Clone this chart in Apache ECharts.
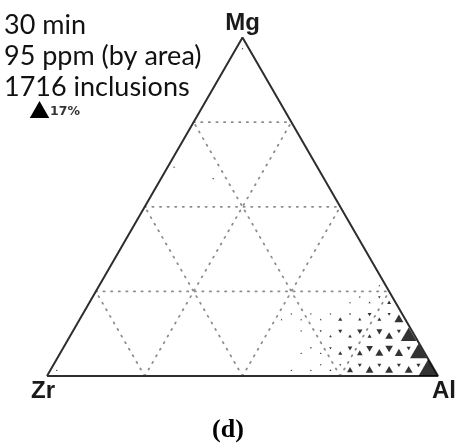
<!DOCTYPE html>
<html>
<head>
<meta charset="utf-8">
<script src="https://cdn.jsdelivr.net/npm/echarts@6/dist/echarts.min.js"></script>
<style>
  html, body { margin: 0; padding: 0; background: #ffffff; }
  #chart { width: 456px; height: 446px; }
</style>
</head>
<body>
<div id="chart"></div>
<script>
// Ternary frequency map of inclusion compositions (Zr – Al – Mg), 5 % bins.
const CORNERS = ['Zr', 'Al', 'Mg'];          // left, right, top
const GRID_TICKS = [25, 50, 75];
const BIN = 5;

// Upward bins: lower bound of Al %, lower bound of Mg %, share of inclusions (%)
const UP_AL  = [95, 90, 85, 80, 75, 70, 65, 60, 0,
                90, 85, 80, 75, 70, 65, 60,
                85, 80, 75, 70, 65,
                80, 75, 70, 65, 60, 55, 50,
                75, 70, 65,
                70, 0, 0];
const UP_MG  = [0, 0, 0, 0, 0, 0, 0, 0, 0,
                5, 5, 5, 5, 5, 5, 5,
                10, 10, 10, 10, 10,
                15, 15, 15, 15, 15, 15, 15,
                20, 20, 20,
                25, 60, 95];
const UP_PCT = [17, 2.8, 2.8, 2.6, 1.6, 0.2, 0.1, 0.06, 0.06,
                12.5, 3.0, 2.8, 1.4, 0.75, 0.15, 0.06,
                11, 2.6, 0.75, 0.55, 0.3,
                3.6, 0.7, 0.45, 0.75, 0.15, 0.06, 0.06,
                0.7, 0.2, 0.06,
                0.15, 0.06, 0.06];

// Downward bins
const DOWN_AL  = [90, 85, 80, 75, 70, 65,
                  85, 80, 75, 70, 65, 60,
                  80, 75, 70, 65, 60, 55,
                  75, 70, 65, 60, 55, 50,
                  70, 65,
                  10];
const DOWN_MG  = [0, 0, 0, 0, 0, 0,
                  5, 5, 5, 5, 5, 5,
                  10, 10, 10, 10, 10, 10,
                  15, 15, 15, 15, 15, 15,
                  20, 20,
                  55];
const DOWN_PCT = [0.75, 0.7, 0.7, 0.7, 0.2, 0.06,
                  0.8, 2.6, 2.0, 1.0, 0.3, 0.15,
                  0.75, 1.6, 1.3, 0.75, 0.2, 0.06,
                  0.45, 0.7, 0.2, 0.15, 0.1, 0.06,
                  0.3, 0.1,
                  0.06];

const INFO_LINES = ['30 min', '95 ppm (by area)', '1716 inclusions'];
const LEGEND_PCT = 17;
const PANEL = '(d)';

// ---- helpers ----
const R3 = Math.sqrt(3) / 2;
// ternary (Al, Mg) in % -> cartesian, Zr at origin, Al at (100,0)
function toXY(al, mg) { return [al + mg / 2, mg * R3]; }
// marker side length (px): area proportional to share
function sideOf(pct) { return Math.max(1.8, 19.5 * Math.sqrt(pct / 17)); }

function markerData(als, mgs, pcts, up) {
  const c = up ? BIN / 3 : 2 * BIN / 3;
  return als.map((al, k) => {
    const s = sideOf(pcts[k]);
    const h = s * R3;
    const [x, y] = toXY(al + c, mgs[k] + c);
    return {
      value: [x, y, pcts[k]],
      symbolSize: [s, h],
      symbolOffset: [0, up ? -h / 6 : h / 6]
    };
  });
}

// dotted guide lines, 25 % steps in all three directions
const gridLines = [];
GRID_TICKS.forEach(t => {
  gridLines.push([toXY(0, t), toXY(100 - t, t)]);          // constant Mg
  gridLines.push([toXY(t, 0), toXY(t, 100 - t)]);          // constant Al
  gridLines.push([toXY(100 - t, 0), toXY(0, 100 - t)]);    // constant Zr
});

const series = gridLines.map(pts => ({
  type: 'line',
  data: pts,
  symbol: 'none',
  silent: true,
  lineStyle: { color: '#8c8c8c', width: 1.8, type: [1.2, 6.4], cap: 'round' },
  z: 1
}));

// outer triangle
series.push({
  type: 'line',
  data: [toXY(0, 0), toXY(100, 0), toXY(0, 100), toXY(0, 0)],
  symbol: 'none',
  silent: true,
  lineStyle: { color: '#2e2e2e', width: 2 },
  z: 2
});

// corner labels
const cornerPts = [toXY(0, 0), toXY(100, 0), toXY(0, 100)];
const cornerLabel = [
  { position: 'bottom', offset: [-4, 0] },
  { position: 'bottom', offset: [6, 0] },
  { position: 'top', offset: [0, 1] }
];
series.push({
  type: 'scatter',
  symbol: 'circle',
  symbolSize: 2,
  silent: true,
  clip: false,
  itemStyle: { color: 'rgba(0,0,0,0)' },
  data: cornerPts.map((p, k) => ({
    value: p,
    label: {
      show: true,
      formatter: CORNERS[k],
      position: cornerLabel[k].position,
      offset: cornerLabel[k].offset,
      distance: 2,
      color: '#1a1a1a',
      opacity: 1,
      fontFamily: 'Liberation Sans',
      fontWeight: 'bold',
      fontSize: 24
    }
  })),
  z: 3
});

series.push({
  type: 'scatter',
  symbol: 'triangle',
  data: markerData(UP_AL, UP_MG, UP_PCT, true),
  itemStyle: { color: '#000000' },
  z: 4
});
series.push({
  type: 'scatter',
  symbol: 'path://M0 0L2 0L1 1.732Z',
  data: markerData(DOWN_AL, DOWN_MG, DOWN_PCT, false),
  itemStyle: { color: '#000000' },
  z: 4
});

// legend key triangle sized from its stated share
const ls = sideOf(LEGEND_PCT), lh = ls * R3;
const lx = 39.5, lb = 118;

const chart = echarts.init(document.getElementById('chart'), null, { renderer: 'canvas' });
chart.setOption({
  animation: false,
  backgroundColor: '#ffffff',
  grid: { left: 47, top: 37.5, width: 391, height: 338.6, containLabel: false },
  xAxis: { type: 'value', min: 0, max: 100, show: false },
  yAxis: { type: 'value', min: 0, max: 100 * R3, show: false },
  series: series,
  graphic: [
    ...INFO_LINES.map((t, k) => ({
      type: 'text',
      left: 4,
      top: 12 + k * 31,
      style: { text: t, font: '27px Lato', fill: '#111111' }
    })),
    {
      type: 'polygon',
      shape: { points: [[lx - ls / 2, lb], [lx + ls / 2, lb], [lx, lb - lh]] },
      style: { fill: '#000000' }
    },
    {
      type: 'text',
      left: 50,
      top: 105,
      style: { text: LEGEND_PCT + '%', font: 'bold 12.5px "DejaVu Sans"', fill: '#333333' }
    },
    {
      type: 'text',
      left: 'center',
      top: 417,
      style: { text: PANEL, font: 'bold 26px "Liberation Serif"', fill: '#000000' }
    }
  ]
});
</script>
</body>
</html>
